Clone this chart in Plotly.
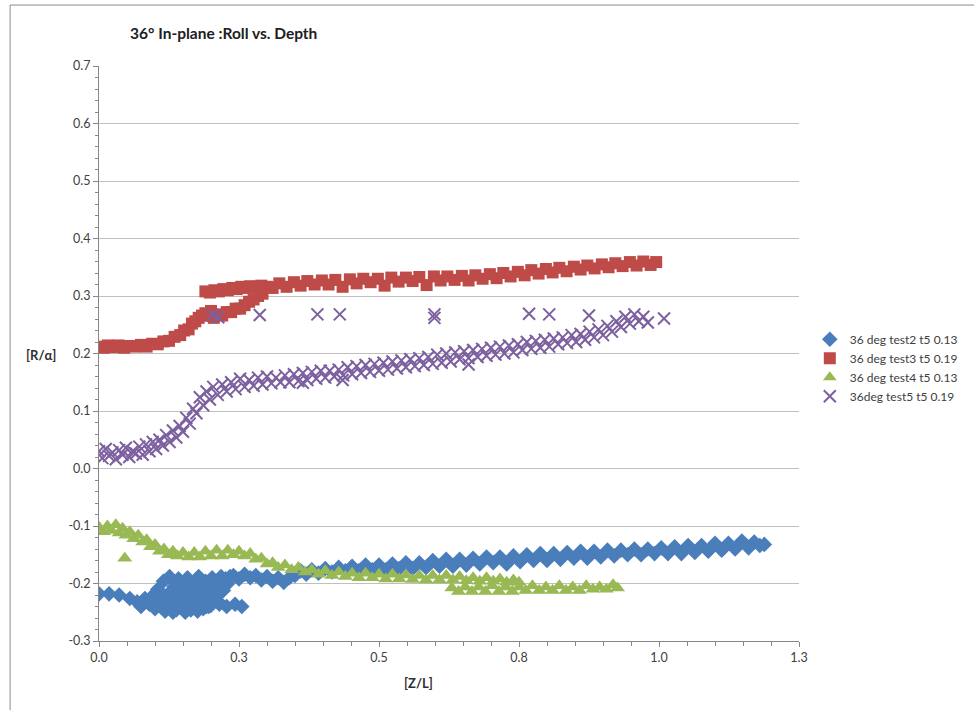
import plotly.graph_objects as go

# ---- Data ----
test2_x = [0.000, 0.018, 0.036, 0.055, 0.068, 0.075, 0.082,
           0.090, 0.095, 0.100, 0.105, 0.110, 0.115, 0.118, 0.122, 0.126, 0.130, 0.134, 0.138,
           0.142, 0.146, 0.150, 0.154, 0.158, 0.162, 0.166, 0.170, 0.174, 0.178, 0.182, 0.186,
           0.190, 0.194, 0.198, 0.202, 0.206, 0.210, 0.214, 0.218, 0.222, 0.226, 0.230, 0.234,
           0.140, 0.150, 0.160, 0.170, 0.180, 0.190, 0.200, 0.210, 0.132, 0.172, 0.192, 0.212,
           0.120, 0.128, 0.136, 0.144, 0.152, 0.160, 0.168, 0.176, 0.184, 0.196, 0.204, 0.216,
           0.224, 0.144, 0.156, 0.164, 0.180, 0.188, 0.200, 0.208, 0.112, 0.108, 0.164, 0.176,
           0.200, 0.215, 0.228, 0.243, 0.255,
           0.240, 0.250, 0.260, 0.270, 0.280, 0.290, 0.300, 0.310, 0.320, 0.330, 0.340, 0.350,
           0.360, 0.370, 0.380, 0.392, 0.404, 0.416, 0.428, 0.440, 0.452, 0.464, 0.476, 0.488,
           0.500, 0.512, 0.524, 0.536, 0.548, 0.560, 0.572, 0.584, 0.596, 0.608, 0.620, 0.632,
           0.644, 0.656, 0.668, 0.680, 0.692, 0.704, 0.716, 0.728, 0.740, 0.752, 0.764, 0.776,
           0.788, 0.800, 0.812, 0.824, 0.836, 0.848, 0.860, 0.872, 0.884, 0.896, 0.908, 0.920,
           0.932, 0.944, 0.956, 0.968, 0.980, 0.992, 1.004, 1.016, 1.028, 1.040, 1.052, 1.064,
           1.076, 1.088, 1.100, 1.112, 1.124, 1.136, 1.148, 1.160, 1.170, 1.180, 1.188]
test2_y = [-0.218, -0.218, -0.220, -0.226, -0.232, -0.240, -0.226,
           -0.236, -0.222, -0.244, -0.210, -0.232, -0.196, -0.248, -0.220, -0.188, -0.238, -0.205, -0.246,
           -0.192, -0.226, -0.212, -0.250, -0.190, -0.234, -0.200, -0.242, -0.216, -0.188, -0.228, -0.244,
           -0.196, -0.214, -0.232, -0.190, -0.208, -0.222, -0.198, -0.188, -0.212, -0.192, -0.200, -0.188,
           -0.214, -0.200, -0.218, -0.206, -0.212, -0.226, -0.204, -0.210, -0.250, -0.226, -0.240, -0.230,
           -0.228, -0.214, -0.232, -0.204, -0.228, -0.196, -0.220, -0.236, -0.202, -0.240, -0.226, -0.210,
           -0.204, -0.238, -0.236, -0.212, -0.198, -0.218, -0.214, -0.196, -0.242, -0.226, -0.246, -0.248,
           -0.238, -0.236, -0.240, -0.236, -0.240,
           -0.186, -0.192, -0.184, -0.190, -0.186, -0.194, -0.188, -0.196, -0.190, -0.198, -0.190, -0.186,
           -0.178, -0.184, -0.176, -0.182, -0.174, -0.180, -0.172, -0.178, -0.170, -0.178, -0.168, -0.176,
           -0.168, -0.176, -0.166, -0.174, -0.164, -0.174, -0.164, -0.172, -0.160, -0.170, -0.158, -0.170,
           -0.158, -0.168, -0.156, -0.166, -0.154, -0.164, -0.154, -0.166, -0.152, -0.162, -0.150, -0.160,
           -0.148, -0.160, -0.148, -0.158, -0.146, -0.156, -0.144, -0.156, -0.144, -0.154, -0.142, -0.152,
           -0.142, -0.150, -0.140, -0.150, -0.140, -0.148, -0.138, -0.148, -0.136, -0.148, -0.134, -0.146,
           -0.134, -0.144, -0.130, -0.142, -0.130, -0.140, -0.126, -0.138, -0.128, -0.134, -0.132]

test3_x = [0.000, 0.008, 0.016, 0.025, 0.035, 0.045, 0.055, 0.065, 0.075, 0.085, 0.095, 0.105,
           0.115, 0.125, 0.135, 0.145, 0.152, 0.160, 0.166, 0.172, 0.178, 0.184, 0.190, 0.196, 0.200,
           0.205, 0.212, 0.220, 0.228, 0.236, 0.244, 0.252, 0.260, 0.268, 0.276, 0.284, 0.292,
           0.190, 0.198, 0.206, 0.214, 0.222, 0.230, 0.238, 0.246, 0.254, 0.262, 0.270, 0.280, 0.290, 0.300,
           0.310, 0.322, 0.335, 0.348, 0.360, 0.372, 0.385, 0.398, 0.410, 0.422, 0.435, 0.448,
           0.460, 0.472, 0.485, 0.498, 0.510, 0.522, 0.535, 0.548, 0.560, 0.572, 0.585, 0.598,
           0.610, 0.622, 0.635, 0.648, 0.660, 0.672, 0.685, 0.698, 0.710, 0.722, 0.735, 0.748,
           0.760, 0.772, 0.785, 0.798, 0.810, 0.822, 0.835, 0.848, 0.860, 0.872, 0.885, 0.898,
           0.910, 0.922, 0.935, 0.948, 0.960, 0.972, 0.985, 0.995]
test3_y = [0.212, 0.210, 0.214, 0.211, 0.214, 0.210, 0.213, 0.212, 0.215, 0.212, 0.217, 0.216,
           0.221, 0.222, 0.229, 0.232, 0.240, 0.242, 0.252, 0.256, 0.262, 0.266, 0.270, 0.266, 0.274,
           0.262, 0.268, 0.266, 0.272, 0.272, 0.278, 0.278, 0.284, 0.290, 0.294, 0.300, 0.304,
           0.308, 0.306, 0.310, 0.308, 0.312, 0.310, 0.314, 0.312, 0.316, 0.314, 0.317, 0.316, 0.318, 0.316,
           0.314, 0.322, 0.316, 0.324, 0.318, 0.326, 0.320, 0.327, 0.320, 0.328, 0.316, 0.329,
           0.322, 0.330, 0.324, 0.330, 0.318, 0.332, 0.325, 0.332, 0.326, 0.333, 0.319, 0.334,
           0.327, 0.334, 0.328, 0.335, 0.327, 0.336, 0.330, 0.338, 0.331, 0.340, 0.334, 0.342,
           0.336, 0.345, 0.339, 0.347, 0.341, 0.349, 0.343, 0.351, 0.346, 0.353, 0.348, 0.355,
           0.350, 0.357, 0.352, 0.359, 0.353, 0.360, 0.354, 0.359]

test4_x = [0.000, 0.008, 0.015, 0.022, 0.030, 0.036, 0.042, 0.048, 0.055, 0.062, 0.070, 0.078,
           0.085, 0.092, 0.100, 0.108, 0.116, 0.124, 0.132, 0.140, 0.150, 0.160, 0.170, 0.180,
           0.190, 0.200, 0.210, 0.220, 0.230, 0.240, 0.250, 0.260, 0.270, 0.280, 0.290, 0.300,
           0.310, 0.320, 0.332, 0.344, 0.356, 0.368, 0.380, 0.392, 0.404, 0.416, 0.428, 0.440,
           0.452, 0.464, 0.476, 0.488, 0.500, 0.512, 0.524, 0.536, 0.548, 0.560, 0.572, 0.584,
           0.596, 0.608, 0.620, 0.632, 0.644, 0.656,
           0.668, 0.680, 0.692, 0.704, 0.716, 0.728, 0.740, 0.750,
           0.630, 0.642, 0.654, 0.666, 0.678, 0.690, 0.702, 0.714, 0.726, 0.738, 0.750, 0.762,
           0.774, 0.786, 0.798, 0.810, 0.822, 0.834, 0.846, 0.858, 0.870, 0.882, 0.894, 0.906,
           0.918, 0.926,
           0.046]
test4_y = [-0.102, -0.110, -0.100, -0.108, -0.098, -0.112, -0.104, -0.116, -0.110, -0.122, -0.116, -0.128,
           -0.124, -0.136, -0.132, -0.144, -0.140, -0.150, -0.144, -0.152, -0.146, -0.154, -0.146, -0.154,
           -0.144, -0.152, -0.142, -0.152, -0.142, -0.150, -0.144, -0.152, -0.148, -0.158, -0.156, -0.166,
           -0.164, -0.172, -0.168, -0.176, -0.172, -0.180, -0.176, -0.184, -0.178, -0.186, -0.180, -0.188,
           -0.182, -0.190, -0.182, -0.190, -0.184, -0.192, -0.184, -0.192, -0.185, -0.193, -0.186, -0.194,
           -0.186, -0.194, -0.186, -0.194, -0.188, -0.195,
           -0.190, -0.196, -0.190, -0.196, -0.192, -0.198, -0.194, -0.198,
           -0.208, -0.214, -0.206, -0.214, -0.206, -0.214, -0.204, -0.214, -0.206, -0.214, -0.206, -0.212,
           -0.204, -0.212, -0.206, -0.212, -0.204, -0.212, -0.206, -0.212, -0.204, -0.210, -0.206, -0.210,
           -0.202, -0.208,
           -0.156]

test5_x = [0.000, 0.006, 0.012, 0.018, 0.024, 0.030, 0.036, 0.042, 0.048, 0.054, 0.060, 0.066,
           0.072, 0.078, 0.084, 0.090, 0.096, 0.102, 0.108, 0.114, 0.120, 0.126, 0.132, 0.138,
           0.144, 0.150, 0.156, 0.162, 0.168, 0.174, 0.180, 0.186, 0.192, 0.198,
           0.204, 0.212, 0.220, 0.228, 0.236, 0.244, 0.252, 0.260, 0.268, 0.276, 0.284, 0.292,
           0.300, 0.308, 0.316, 0.324, 0.332, 0.340, 0.348, 0.356, 0.364, 0.372, 0.380, 0.388,
           0.396, 0.404, 0.412, 0.420, 0.428, 0.436, 0.444, 0.452, 0.460, 0.468, 0.476, 0.484,
           0.492, 0.500, 0.508, 0.516, 0.524, 0.532, 0.540, 0.548, 0.556, 0.564, 0.572, 0.580,
           0.588, 0.596, 0.604, 0.612, 0.620, 0.628, 0.636, 0.644, 0.652, 0.660, 0.668, 0.676,
           0.684, 0.692, 0.700, 0.708, 0.716, 0.724, 0.732, 0.740, 0.748, 0.756, 0.764, 0.772,
           0.780, 0.788, 0.796, 0.804, 0.812, 0.820, 0.828, 0.836, 0.844, 0.852, 0.860, 0.868,
           0.876, 0.884, 0.892, 0.900, 0.908, 0.916, 0.924, 0.932, 0.940, 0.948, 0.956, 0.964,
           0.972, 0.980,
           0.203, 0.213, 0.287, 0.390, 0.430, 0.599, 0.599, 0.768, 0.804, 0.875, 1.009,
           0.364, 0.435, 0.660]
test5_y = [0.030, 0.018, 0.034, 0.022, 0.028, 0.016, 0.032, 0.024, 0.036, 0.020, 0.030, 0.026,
           0.038, 0.024, 0.042, 0.030, 0.046, 0.034, 0.050, 0.040, 0.058, 0.046, 0.066, 0.054,
           0.074, 0.064, 0.088, 0.078, 0.104, 0.096, 0.124, 0.110, 0.134, 0.120,
           0.142, 0.128, 0.146, 0.134, 0.150, 0.138, 0.156, 0.142, 0.154, 0.144, 0.158, 0.146,
           0.160, 0.148, 0.158, 0.150, 0.162, 0.150, 0.164, 0.152, 0.166, 0.154, 0.168, 0.156,
           0.170, 0.158, 0.170, 0.160, 0.172, 0.162, 0.176, 0.164, 0.178, 0.166, 0.180, 0.168,
           0.182, 0.170, 0.184, 0.172, 0.186, 0.174, 0.188, 0.176, 0.190, 0.178, 0.192, 0.180,
           0.194, 0.182, 0.198, 0.184, 0.200, 0.186, 0.202, 0.190, 0.204, 0.192, 0.206, 0.194,
           0.208, 0.196, 0.210, 0.198, 0.212, 0.200, 0.214, 0.202, 0.216, 0.206, 0.220, 0.208,
           0.222, 0.210, 0.224, 0.212, 0.226, 0.216, 0.228, 0.218, 0.232, 0.220, 0.234, 0.224,
           0.238, 0.228, 0.242, 0.232, 0.248, 0.238, 0.256, 0.246, 0.264, 0.252, 0.268, 0.256,
           0.264, 0.254,
           0.267, 0.263, 0.267, 0.268, 0.268, 0.268, 0.262, 0.269, 0.268, 0.266, 0.261,
           0.149, 0.154, 0.181]

names = ["36 deg test2 t5 0.13", "36 deg test3 t5 0.19",
         "36 deg test4 t5 0.13", "36deg test5 t5 0.19"]

x_tickvals = [0.0, 0.25, 0.5, 0.75, 1.0, 1.25]
x_ticktext = ["0.0", "0.3", "0.5", "0.8", "1.0", "1.3"]
y_tickvals = [-0.3, -0.2, -0.1, 0.0, 0.1, 0.2, 0.3, 0.4, 0.5, 0.6, 0.7]
y_ticktext = ["-0.3", "-0.2", "-0.1", "0.0", "0.1", "0.2", "0.3", "0.4", "0.5", "0.6", "0.7"]

FONT = "Lato, Carlito, Calibri, 'Open Sans', sans-serif"

fig = go.Figure()
fig.add_trace(go.Scatter(x=test2_x, y=test2_y, mode="markers", name=names[0],
                         marker=dict(symbol="diamond", size=12, color="#4A7EBB")))
fig.add_trace(go.Scatter(x=test3_x, y=test3_y, mode="markers", name=names[1],
                         marker=dict(symbol="square", size=12, color="#BE4B48")))
fig.add_trace(go.Scatter(x=test4_x, y=test4_y, mode="markers", name=names[2],
                         marker=dict(symbol="triangle-up", size=13, color="#98B954")))
fig.add_trace(go.Scatter(x=test5_x, y=test5_y, mode="markers", name=names[3],
                         marker=dict(symbol="x-thin", size=12, color="#7D60A0",
                                     line=dict(width=2, color="#7D60A0"))))

fig.update_layout(
    width=974, height=712,
    margin=dict(l=99, r=174, t=66, b=71),
    paper_bgcolor="white", plot_bgcolor="white",
    font=dict(family=FONT, size=12, color="#404040"),
    showlegend=True,
    legend=dict(x=1.014, y=0.550, xanchor="left", yanchor="top",
                font=dict(size=12, color="#404040"),
                bgcolor="rgba(0,0,0,0)", itemsizing="constant"),
    xaxis=dict(range=[0, 1.25], tickmode="array", tickvals=x_tickvals, ticktext=x_ticktext,
               showgrid=False, zeroline=False, showline=True, linecolor="#868686",
               ticks="outside", ticklen=5, tickcolor="#868686",
               minor=dict(dtick=0.05, tick0=0, ticks="outside", ticklen=4, tickcolor="#868686"),
               tickfont=dict(size=12.5, color="#404040")),
    yaxis=dict(range=[-0.3, 0.7], tickmode="array", tickvals=y_tickvals, ticktext=y_ticktext,
               showgrid=True, gridcolor="#BFBFBF", gridwidth=1,
               zeroline=False, showline=True, linecolor="#868686",
               ticks="outside", ticklen=5, tickcolor="#868686",
               minor=dict(dtick=0.02, tick0=0, ticks="outside", ticklen=3, tickcolor="#868686",
                          showgrid=False),
               tickfont=dict(size=12.5, color="#404040")),
)

# titles as annotations
fig.add_annotation(text="<b>36° In-plane :Roll vs. Depth</b>", xref="paper", yref="paper",
                   x=0.041, y=1.057, xanchor="left", yanchor="middle", showarrow=False,
                   font=dict(size=15.5, color="#202020", family=FONT))
fig.add_annotation(text="<b>[R/α]</b>", xref="paper", yref="paper",
                   x=-0.059, y=0.498, xanchor="right", yanchor="middle", showarrow=False,
                   font=dict(size=13, color="#303030", family=FONT))
fig.add_annotation(text="<b>[Z/L]</b>", xref="paper", yref="paper",
                   x=0.457, y=-0.073, xanchor="center", yanchor="middle", showarrow=False,
                   font=dict(size=13, color="#303030", family=FONT))

# outer chart border
fig.add_shape(type="line", xref="paper", yref="paper", x0=-0.127, x1=1.25, y0=1.106, y1=1.106,
              line=dict(color="#8C8C8C", width=1))
fig.add_shape(type="line", xref="paper", yref="paper", x0=-0.127, x1=-0.127, y0=1.106, y1=-0.12,
              line=dict(color="#8C8C8C", width=1))

fig.write_html("out.html")
